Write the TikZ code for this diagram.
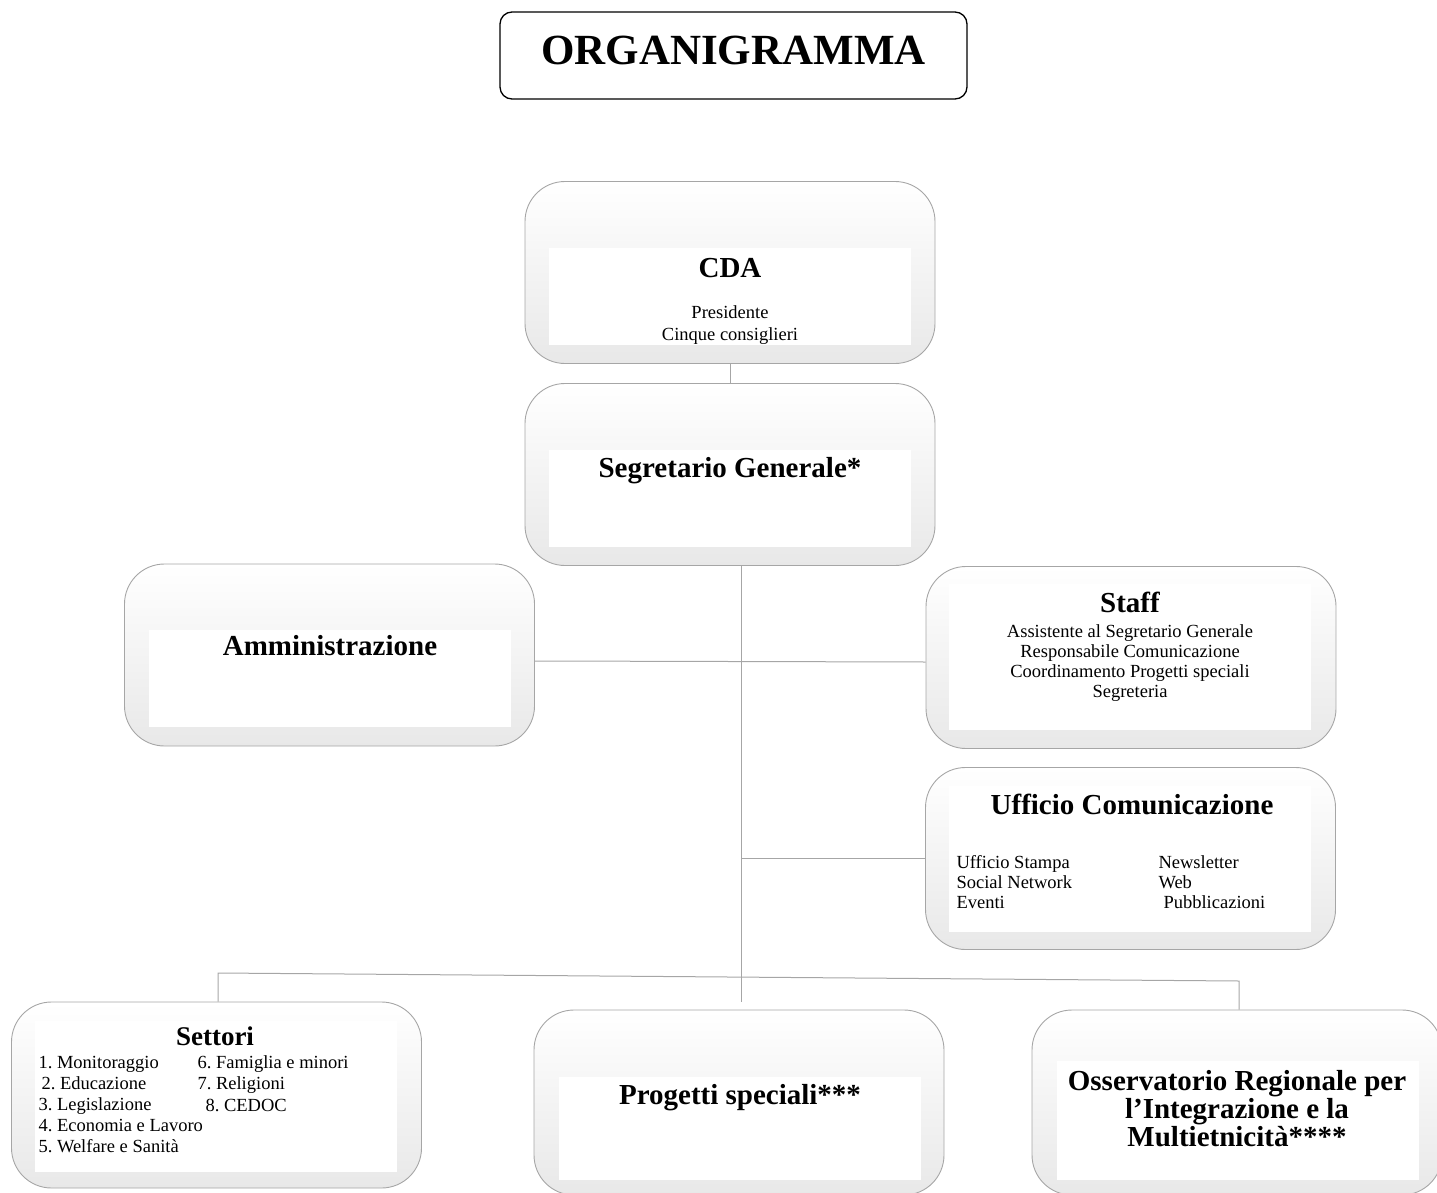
\documentclass[tikz,border=0pt]{standalone}
\usepackage{fontspec}
\setmainfont{Liberation Serif}
\usetikzlibrary{scopes}
\definecolor{linegray}{HTML}{A6A6A6}
\frenchspacing

\begin{document}
\begin{tikzpicture}[x=1pt,y=-1pt,
    titlebox/.style={draw=black,line width=1.3pt,rounded corners=12pt,minimum width=467pt,minimum height=87pt,text height=29pt,text depth=10pt,font=\fontsize{43}{48}\selectfont\bfseries},
    outer/.style={draw=linegray,line width=0.9pt,rounded corners=40pt,top color=white,bottom color=gray!18,minimum width=410pt,minimum height=182pt,inner sep=0pt},
    inner/.style={fill=white,minimum width=362pt,inner sep=0pt},
    head/.style={anchor=base,font=\fontsize{29}{33}\selectfont\bfseries},
    body/.style={anchor=base,align=center,font=\fontsize{18.5}{20}\selectfont},
    col/.style={anchor=base west,align=left,font=\fontsize{18.5}{20}\selectfont},
    link/.style={draw=linegray,line width=1pt},
]
\useasboundingbox (0,0) rectangle (1437,1193);

\node[titlebox] (title) at (733.5,55.5) {ORGANIGRAMMA};

% boxes
\node[outer] (cda) at (730,272.5) {};
\node[outer] (seg) at (730,474.5) {};
\node[outer] (amm) at (329.5,655) {};
\node[outer] (staff) at (1131,657.5) {};
\node[outer] (uff) at (1130.5,858.5) {};
\node[outer,minimum height=186pt] (sett) at (216.5,1095) {};
\node[outer,minimum height=185pt] (prog) at (739,1102.5) {};
\node[outer,minimum height=185pt] (oss) at (1237,1102.5) {};

% white panels
\node[inner,minimum height=97pt] (cda-in) at (730,296.5) {};
\node[inner,minimum height=97pt] (seg-in) at (730,498.5) {};
\node[inner,minimum height=97pt] (amm-in) at (330,678.5) {};
\node[inner,minimum height=146pt] (staff-in) at (1130,657) {};
\node[inner,minimum height=146pt] (uff-in) at (1130,859) {};
\node[inner,minimum height=151pt] (sett-in) at (216,1096.5) {};
\node[inner,minimum height=103pt] (prog-in) at (740,1128.5) {};
\node[inner,minimum height=119pt] (oss-in) at (1237.5,1120.5) {};

% texts (multi-line: base = last line)
\node[head] (cda-t) at (730,277) {CDA};
\node[body,font=\fontsize{18.5}{22}\selectfont] (cda-b) at (730,340) {Presidente\\Cinque consiglieri};
\node[head] (seg-t) at (730,477) {Segretario Generale*};
\node[head] (amm-t) at (330,655) {Amministrazione};
\node[head] (staff-t) at (1130,612) {Staff};
\node[body] (staff-b) at (1130,697) {Assistente al Segretario Generale\\Responsabile Comunicazione\\Coordinamento Progetti speciali\\Segreteria};
\node[head] (uff-t) at (1132,814) {Ufficio Comunicazione};
\node[col] (uff-l) at (953,908) {Ufficio Stampa\\Social Network\\Eventi};
\node[col] (uff-r) at (1155,908) {Newsletter\\Web\\\hspace*{5pt}Pubblicazioni};
\node[head,font=\fontsize{27}{31}\selectfont\bfseries] (sett-t) at (215,1045) {Settori};
\node[col,font=\fontsize{18.5}{21}\selectfont] (sett-l) at (35,1152) {1. Monitoraggio\\\hspace*{3pt}2. Educazione\\3. Legislazione\\4. Economia e Lavoro\\5. Welfare e Sanità};
\node[col,font=\fontsize{18.5}{21.5}\selectfont] (sett-r) at (194,1111) {6. Famiglia e minori\\7. Religioni\\\hspace*{8pt}8. CEDOC};
\node[head] (prog-t) at (740,1104) {Progetti speciali***};
\node[head,align=center,font=\fontsize{29}{26.5}\selectfont\bfseries] (oss-t) at (1237,1146) {Osservatorio Regionale per\\l’Integrazione e la\\Multietnicità****};

% connectors
{[link]
\draw (cda.south) -- (seg.north); % cda - segretario
\coordinate (trunk) at (741,1002);
\draw (seg.south -| trunk) -- (trunk); % trunk
\draw ([yshift=-6pt]amm.east) -- ([yshift=-4.5pt]staff.west); % amm - staff
\draw (uff.west) -- (uff.west -| trunk); % ufficio
\coordinate (busL) at (218,973);
\coordinate (busR) at (1239,981);
\draw (sett.north -| busL) -- (busL) -- (busR) -- (oss.north -| busR); % bottom bus
}
\end{tikzpicture}
\end{document}
